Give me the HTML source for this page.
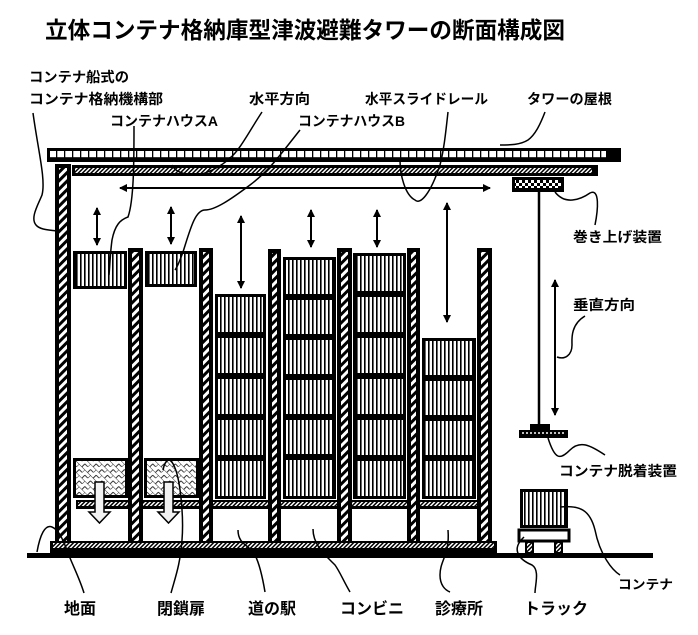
<!DOCTYPE html>
<html><head><meta charset="utf-8"><style>
html,body{margin:0;padding:0;background:#fff;}
svg{display:block;}
text{font-family:"Liberation Sans","Noto Sans CJK JP",sans-serif;font-weight:bold;fill:#000;}
</style></head><body>
<svg width="698" height="635" viewBox="0 0 698 635" xmlns="http://www.w3.org/2000/svg">
<defs>
<pattern id="hatch" width="6" height="6" patternUnits="userSpaceOnUse" patternTransform="rotate(45)">
<rect width="6" height="6" fill="#fff"/><rect width="3" height="6" fill="#000"/></pattern>
<pattern id="fine" width="3" height="3" patternUnits="userSpaceOnUse" patternTransform="rotate(45)">
<rect width="3" height="3" fill="#fff"/><rect width="1.5" height="3" fill="#000"/></pattern>
<pattern id="vs" width="4" height="10" patternUnits="userSpaceOnUse">
<rect width="4" height="10" fill="#fff"/><rect width="1.6" height="10" fill="#000"/></pattern>
<pattern id="chk" width="6" height="6" patternUnits="userSpaceOnUse">
<rect width="6" height="6" fill="#fff"/><rect width="3" height="3" fill="#000"/><rect x="3" y="3" width="3" height="3" fill="#000"/></pattern>
<pattern id="cross" width="8" height="8" patternUnits="userSpaceOnUse" patternTransform="rotate(45)">
<rect width="8" height="8" fill="#fff"/><path d="M0 0H8M0 0V4M4 4H8M4 4V8" stroke="#000" stroke-width="0.8" fill="none"/></pattern>
<pattern id="roofp" width="8" height="7" patternUnits="userSpaceOnUse">
<rect width="8" height="7" fill="#fff"/><rect width="1.3" height="7" fill="#000"/><rect y="3" width="8" height="0.8" fill="#000"/></pattern>
<marker id="ah" markerWidth="8" markerHeight="8" refX="7" refY="4" orient="auto" markerUnits="userSpaceOnUse"><path d="M0 0L8 4L0 8z" fill="#000"/></marker>
<marker id="as" markerWidth="8" markerHeight="8" refX="1" refY="4" orient="auto" markerUnits="userSpaceOnUse"><path d="M8 0L0 4L8 8z" fill="#000"/></marker>
</defs>

<text x="45" y="38" font-size="23" textLength="520" lengthAdjust="spacingAndGlyphs">立体コンテナ格納庫型津波避難タワーの断面構成図</text>

<g font-size="14">
<text x="29" y="82" textLength="100" lengthAdjust="spacingAndGlyphs">コンテナ船式の</text>
<text x="29" y="104" textLength="134" lengthAdjust="spacingAndGlyphs">コンテナ格納機構部</text>
<text x="249" y="104" textLength="61" lengthAdjust="spacingAndGlyphs">水平方向</text>
<text x="365" y="104" textLength="123" lengthAdjust="spacingAndGlyphs">水平スライドレール</text>
<text x="527" y="104" textLength="85" lengthAdjust="spacingAndGlyphs">タワーの屋根</text>
<text x="110" y="126" textLength="108" lengthAdjust="spacingAndGlyphs">コンテナハウスA</text>
<text x="298" y="126" textLength="107" lengthAdjust="spacingAndGlyphs">コンテナハウスB</text>
<text x="573" y="242" textLength="89" lengthAdjust="spacingAndGlyphs">巻き上げ装置</text>
<text x="573" y="310" textLength="62" lengthAdjust="spacingAndGlyphs">垂直方向</text>
<text x="559" y="476" textLength="118" lengthAdjust="spacingAndGlyphs">コンテナ脱着装置</text>
<text x="618" y="589" font-size="13" textLength="55" lengthAdjust="spacingAndGlyphs">コンテナ</text>
</g>
<g font-size="16">
<text x="64" y="614">地面</text>
<text x="157" y="614">閉鎖扉</text>
<text x="248" y="614">道の駅</text>
<text x="340" y="614">コンビニ</text>
<text x="435" y="614">診療所</text>
<text x="524" y="614">トラック</text>
</g>

<!-- roof -->
<rect x="47" y="148" width="574" height="14" fill="#000"/>
<rect x="50" y="151" width="556" height="7" fill="url(#roofp)"/>
<!-- rail -->
<rect x="72" y="165" width="526" height="11" fill="#000"/>
<rect x="75" y="168" width="517" height="5" fill="url(#fine)"/>
<!-- horizontal arrow -->
<line x1="120" y1="188" x2="490" y2="188" stroke="#000" stroke-width="2" marker-end="url(#ah)" marker-start="url(#as)"/>
<!-- hoist -->
<rect x="512" y="177" width="52" height="15" fill="#000"/>
<rect x="515" y="180" width="46" height="8" fill="url(#chk)"/>
<line x1="539" y1="192" x2="539" y2="425" stroke="#000" stroke-width="2.5"/>
<rect x="530" y="424" width="20" height="6" fill="#000"/>
<rect x="519" y="430" width="49" height="8" fill="#000"/>
<line x1="522" y1="433" x2="565" y2="433" stroke="#fff" stroke-width="1.5" stroke-dasharray="2 2"/>
<line x1="555" y1="415" x2="555" y2="280" stroke="#000" stroke-width="2" marker-end="url(#ah)" marker-start="url(#as)"/>

<!-- pillars -->
<g fill="url(#hatch)" stroke="#000" stroke-width="4">
<rect x="57" y="166" width="12" height="377"/>
<rect x="130" y="250" width="11" height="293"/>
<rect x="201" y="250" width="10" height="293"/>
<rect x="270" y="251" width="9" height="292"/>
<rect x="339" y="250" width="11" height="293"/>
<rect x="409" y="250" width="9" height="293"/>
<rect x="479" y="250" width="11" height="293"/>
</g>

<!-- base -->
<rect x="50" y="541" width="447" height="12" fill="#000"/>
<rect x="53" y="543" width="441" height="5" fill="url(#fine)"/>
<rect x="27" y="553" width="626" height="5" fill="#000"/>

<!-- containers -->
<g fill="url(#vs)" stroke="#000" stroke-width="3">
<rect x="74.5" y="252.5" width="51" height="35"/>
<rect x="146.5" y="252.5" width="49" height="33"/>
<rect x="216.5" y="295.5" width="48" height="38"/>
<rect x="216.5" y="336.5" width="48" height="38"/>
<rect x="216.5" y="377.5" width="48" height="38"/>
<rect x="216.5" y="418.5" width="48" height="38"/>
<rect x="216.5" y="459.5" width="48" height="38"/>
<rect x="284.5" y="258.5" width="50" height="37"/>
<rect x="284.5" y="298.5" width="50" height="37"/>
<rect x="284.5" y="338.5" width="50" height="37"/>
<rect x="284.5" y="378.5" width="50" height="37"/>
<rect x="284.5" y="418.5" width="50" height="37"/>
<rect x="284.5" y="458.5" width="50" height="39"/>
<rect x="354.5" y="254.5" width="50" height="38"/>
<rect x="354.5" y="295.5" width="50" height="38"/>
<rect x="354.5" y="336.5" width="50" height="38"/>
<rect x="354.5" y="377.5" width="50" height="38"/>
<rect x="354.5" y="418.5" width="50" height="38"/>
<rect x="354.5" y="459.5" width="50" height="38"/>
<rect x="423.5" y="339.5" width="51" height="37"/>
<rect x="423.5" y="379.5" width="51" height="37"/>
<rect x="423.5" y="419.5" width="51" height="37"/>
<rect x="423.5" y="459.5" width="51" height="38"/>
<rect x="521.5" y="490.5" width="45" height="36"/>
</g>

<!-- floors -->
<g fill="#000">
<rect x="76" y="500" width="54" height="9"/><rect x="141" y="500" width="60" height="9"/>
<rect x="211" y="500" width="59" height="9"/><rect x="279" y="500" width="60" height="9"/>
<rect x="350" y="500" width="59" height="9"/><rect x="418" y="500" width="61" height="9"/>
</g>
<g fill="url(#fine)">
<rect x="78" y="502" width="50" height="4"/><rect x="143" y="502" width="56" height="4"/>
<rect x="213" y="502" width="55" height="4"/><rect x="281" y="502" width="56" height="4"/>
<rect x="352" y="502" width="55" height="4"/><rect x="420" y="502" width="57" height="4"/>
</g>

<!-- doors -->
<g fill="url(#cross)" stroke="#000" stroke-width="3">
<rect x="74.5" y="459.5" width="52" height="37"/>
<rect x="145.5" y="459.5" width="52" height="37"/>
</g>
<g fill="#f2f2f2" stroke="#000" stroke-width="1.5">
<path d="M95 482H104V512H110L99.5 523L89 512H95Z"/>
<path d="M164 482H173V512H179L168.5 523L158 512H164Z"/>
</g>

<!-- truck -->
<rect x="519" y="530" width="50" height="11" fill="none" stroke="#000" stroke-width="3"/>
<rect x="526" y="542" width="7" height="11" fill="url(#fine)" stroke="#000" stroke-width="2"/>
<rect x="555" y="542" width="7" height="11" fill="url(#fine)" stroke="#000" stroke-width="2"/>

<!-- double arrows -->
<g stroke="#000" stroke-width="2" marker-end="url(#ah)" marker-start="url(#as)">
<line x1="97" y1="208" x2="97" y2="245"/>
<line x1="171" y1="207" x2="171" y2="244"/>
<line x1="241" y1="216" x2="241" y2="288"/>
<line x1="311" y1="210" x2="311" y2="247"/>
<line x1="377" y1="210" x2="377" y2="247"/>
<line x1="447" y1="203" x2="447" y2="322"/>
</g>

<!-- leaders -->
<g fill="none" stroke="#000" stroke-width="1.5">
<path d="M33 113C38 150 46 180 42 195C38 205 30 218 36 225C40 230 50 230 57 231"/>
<path d="M134 126C134 160 134 200 128 217C120 220 115 225 112 240C110 255 110 265 109 275"/>
<path d="M262 112C250 130 240 150 230 158C222 166 205 175 195 175C185 175 175 172 172 165"/>
<path d="M300 130C280 155 270 170 250 185C230 200 215 210 205 210C195 210 190 230 183 252C180 260 178 266 175 270"/>
<path d="M448 112C446 130 444 150 440 165C430 195 420 205 415 200C405 195 400 175 400 160"/>
<path d="M545 112C540 125 535 135 528 140C520 145 510 145 500 145"/>
<path d="M555 192C565 205 580 200 590 193C600 188 598 210 595 225"/>
<path d="M585 316C570 325 572 340 572 345C572 355 565 360 557 357"/>
<path d="M548 438C555 460 560 460 570 450C580 440 590 445 605 455"/>
<path d="M560 507C580 505 590 510 595 530C600 555 612 570 620 575"/>
<path d="M524 537C510 550 520 560 532 565C540 570 535 585 535 593"/>
<path d="M448 530C450 555 440 560 440 575C440 585 445 590 450 592"/>
<path d="M313 529C313 545 325 555 335 565C340 572 343 580 350 592"/>
<path d="M238 530C238 545 250 545 255 555C260 565 263 580 265 592"/>
<path d="M171 593C176 575 180 565 182 540C184 515 180 480 175 468C170 455 165 460 163 470"/>
<path d="M84 593C80 580 75 570 70 558C65 545 60 530 52 527C45 524 40 535 37 552"/>
</g>
</svg>
</body></html>
